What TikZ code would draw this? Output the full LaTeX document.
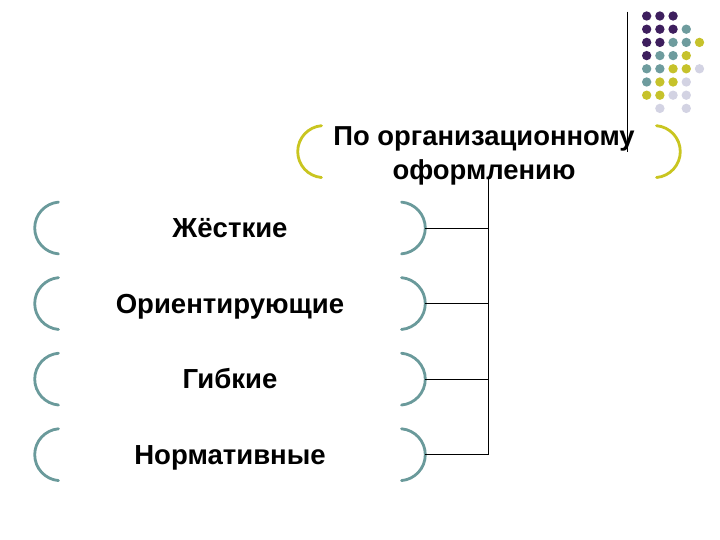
\documentclass[tikz,border=0pt]{standalone}
\usepackage{fontspec}
\setmainfont{Liberation Sans}
\usetikzlibrary{positioning}
\definecolor{bracketteal}{HTML}{6A9A9B}
\definecolor{bracketyellow}{HTML}{C9C520}
\definecolor{dotpurple}{HTML}{3E1F5E}
\definecolor{dotteal}{HTML}{6E9C9E}
\definecolor{dotyellow}{HTML}{C6C22B}
\definecolor{dotlavender}{HTML}{D3D3E3}

\begin{document}
\begin{tikzpicture}[
    node distance=0.575cm,
    itembox/.style={minimum width=9.75cm, minimum height=1.3cm, inner sep=0pt,
                    font=\fontsize{19.6}{24}\selectfont\bfseries, text height=15pt, text depth=1pt},
    headbox/.style={minimum width=9.55cm, inner sep=0pt, align=center,
                    font=\fontsize{19.5}{23.6}\selectfont\bfseries},
    bracket/.style={line width=2pt, line cap=round},
    link/.style={line width=0.7pt, black}
]
    \useasboundingbox (0,0) rectangle (18,13.5);

    % corner decoration
    \draw[link] (15.675,13.21) -- (15.675,9.7);
    \foreach \row/\cols in {0/{0,1,2}, 1/{0,1,2,3}, 2/{0,1,2,3,4}, 3/{0,1,2,3},
                            4/{0,1,2,3,4}, 5/{0,1,2,3}, 6/{0,1,2,3}, 7/{1,3}}
        \foreach \col in \cols {
            \pgfmathtruncatemacro\dotsum{\row+\col}
            \ifnum\dotsum<4 \def\dotcol{dotpurple}\else
            \ifnum\dotsum<6 \def\dotcol{dotteal}\else
            \ifnum\dotsum<8 \def\dotcol{dotyellow}\else
            \def\dotcol{dotlavender}\fi\fi\fi
            \fill[\dotcol] (16.167+0.33*\col, 13.1-0.33*\row) circle (0.117);
        }

    \node[headbox] (head) at (12.1,9.6) {По организационному\\оформлению};
    \node[itembox] (rigid) at (5.75,7.8) {Жёсткие};
    \node[itembox, below=of rigid] (guide) {Ориентирующие};
    \node[itembox, below=of guide] (flex) {Гибкие};
    \node[itembox, below=of flex] (norm) {Нормативные};

    % brackets
    \draw[bracket, bracketyellow]
        ([shift={(0.125,0.11)}]head.west) arc[start angle=180, end angle=95, radius=0.65]
        ([shift={(0.125,0.11)}]head.west) arc[start angle=180, end angle=265, radius=0.65]
        ([shift={(0.125,0.11)}]head.east) arc[start angle=0, end angle=85, radius=0.65]
        ([shift={(0.125,0.11)}]head.east) arc[start angle=0, end angle=-85, radius=0.65];
    \foreach \n in {rigid,guide,flex,norm}
        \draw[bracket, bracketteal]
            (\n.west) arc[start angle=180, end angle=95, radius=0.65]
            (\n.west) arc[start angle=180, end angle=265, radius=0.65]
            (\n.east) arc[start angle=0, end angle=85, radius=0.65]
            (\n.east) arc[start angle=0, end angle=-85, radius=0.65];

    % links
    \coordinate (trunk) at ([xshift=0.1cm, yshift=0.2cm]head.south);
    \draw[link] (trunk) |- (norm.east);
    \foreach \n in {rigid,guide,flex}
        \draw[link] (\n.east) -- (\n.east -| trunk);
\end{tikzpicture}
\end{document}
